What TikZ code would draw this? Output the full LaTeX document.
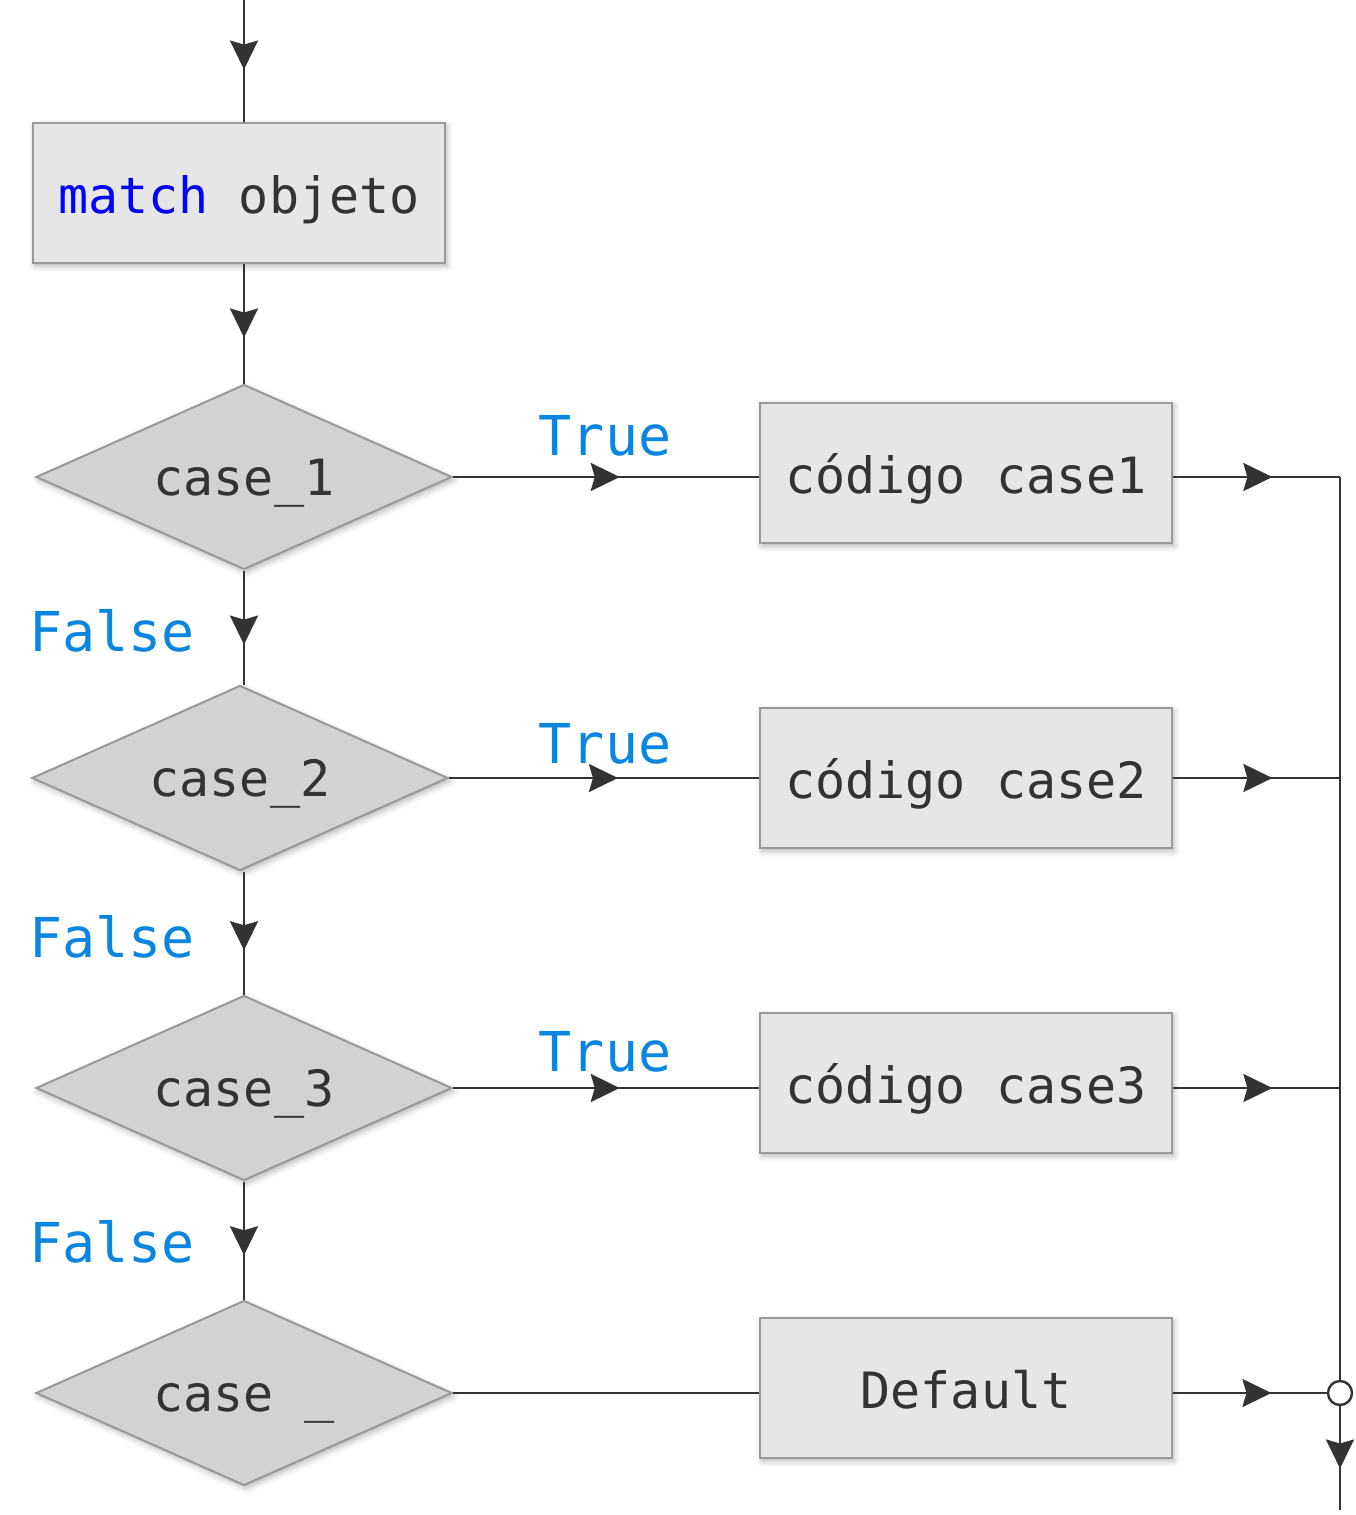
\documentclass[tikz,border=0pt]{standalone}
\usepackage{fontspec}
\setmonofont{DejaVu Sans Mono}
\usetikzlibrary{shapes.geometric, arrows.meta, decorations.markings, shadows.blur}
\definecolor{ink}{HTML}{333333}
\definecolor{boxfill}{HTML}{E6E6E6}
\definecolor{edgegray}{HTML}{999999}
\definecolor{dfill}{HTML}{D1D2D4}
\definecolor{lbl}{HTML}{0A86E0}
\definecolor{kw}{HTML}{0000FF}
\begin{document}
\begin{tikzpicture}[x=1pt,y=-1pt,
  conn/.style={draw=ink, line width=2.4pt},
  midarr/.style={postaction={decorate}, decoration={markings,
      mark=at position #1 with {\arrow{Stealth[length=29pt,width=28pt,inset=4pt]}}}},
  softshadow/.style={blur shadow={shadow xshift=2pt, shadow yshift=-3pt, shadow blur radius=6pt, shadow opacity=30}},
  codebox/.style={rectangle, draw=edgegray, line width=2pt, fill=boxfill, softshadow,
      minimum width=412pt, minimum height=140pt, inner sep=0pt,
      text height=42pt, text depth=2pt,
      font=\ttfamily\fontsize{50}{60}\selectfont, text=ink},
  decision/.style={diamond, draw=edgegray, line width=2pt, fill=dfill, softshadow,
      aspect=2.25, minimum width=416pt, minimum height=185pt, inner sep=0pt,
      text height=40pt, text depth=4pt,
      font=\ttfamily\fontsize{50}{60}\selectfont, text=ink},
  lab/.style={inner sep=0pt, font=\ttfamily\fontsize{55}{66}\selectfont, text=lbl},
  junction/.style={circle, draw=ink, line width=2.4pt, fill=white, minimum size=24pt, inner sep=0pt}
]
\useasboundingbox (0,0) rectangle (1355,1515);

% nodes
\coordinate (top) at (244,0);
\node[codebox] (m) at (239,193) {\textcolor{kw}{match} objeto};
\node[decision] (d1) at (244,477) {case\_1};
\node[decision] (d2) at (240,778) {case\_2};
\node[decision] (d3) at (244,1088) {case\_3};
\node[decision] (d4) at (244,1393) {case \_};
\node[codebox] (c1) at (966,473) {código case1};
\node[codebox] (c2) at (966,778) {código case2};
\node[codebox] (c3) at (966,1083) {código case3};
\node[codebox] (c4) at (966,1388) {Default};
\coordinate (r1) at (1340,477);
\node[junction] (j) at (1340,1393) {};
\coordinate (bot) at (1340,1510);

% labels
\node[lab] (t1) at (605,436) {True};
\node[lab] (t2) at (605,744) {True};
\node[lab] (t3) at (605,1052) {True};
\node[lab] (f1) at (112,631) {False};
\node[lab] (f2) at (112,937) {False};
\node[lab] (f3) at (112,1242) {False};

% vertical chain
\draw[conn, midarr=0.57] (top) -- (top |- m.north);
\draw[conn, midarr=0.615] (top |- m.south) -- (d1.north);
\draw[conn, midarr=0.65] (d1.south) -- (d1.south |- d2.north);
\draw[conn, midarr=0.64] (d1.south |- d2.south) -- (d3.north);
\draw[conn, midarr=0.625] (d3.south) -- (d4.north);

% true branches
\draw[conn, midarr=0.545] (d1.east) -- (d1.east -| c1.west);
\draw[conn, midarr=0.545] (d2.east) -- (d2.east -| c2.west);
\draw[conn, midarr=0.545] (d3.east) -- (d3.east -| c3.west);
\draw[conn] (d4.east) -- (d4.east -| c4.west);

% right side merge
\draw[conn, midarr=0.595] (c1.east |- d1) -- (r1);
\draw[conn] (r1) -- (j.north);
\draw[conn, midarr=0.595] (c2.east |- d2) -- (r1 |- d2);
\draw[conn, midarr=0.595] (c3.east |- d3) -- (r1 |- d3);
\draw[conn, midarr=0.64] (c4.east |- d4) -- (j.west);
\draw[conn, midarr=0.6] (j.south) -- (bot);
\end{tikzpicture}
\end{document}
